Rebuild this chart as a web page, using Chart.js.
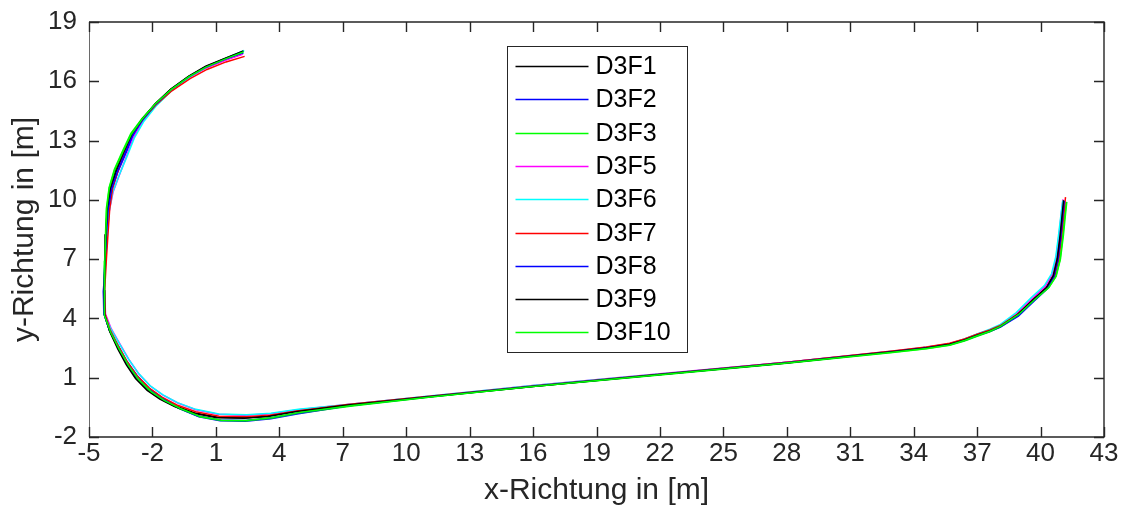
<!DOCTYPE html>
<html>
<head>
<meta charset="utf-8">
<script src="https://cdn.jsdelivr.net/npm/chart.js@4.4.1/dist/chart.umd.min.js"></script>
<style>
  html, body { margin: 0; padding: 0; background: #ffffff; }
  #wrap { width: 1124px; height: 518px; position: relative; }
</style>
</head>
<body>
<div id="wrap"><canvas id="c" width="1124" height="518"></canvas></div>
<script>
// Trajectories (x, y in metres) of the recorded runs
const seriesNames = ['D3F1', 'D3F2', 'D3F3', 'D3F5', 'D3F6', 'D3F7', 'D3F8', 'D3F9', 'D3F10'];
const seriesColors = ['#000000', '#0000ff', '#00ff00', '#ff00ff', '#00ffff', '#ff0000', '#0000ff', '#000000', '#00ff00'];

const d3f1 = [[2.28,17.50],[1.40,17.13],[0.50,16.73],[-0.30,16.24],[-1.15,15.58],[-1.88,14.84],[-2.48,14.08],[-2.98,13.30],[-3.33,12.38],[-3.70,11.46],[-3.97,10.55],[-4.12,9.50],[-4.18,8.20],[-4.23,6.90],[-4.29,5.40],[-4.27,4.20],[-4.02,3.38],[-3.62,2.52],[-3.22,1.72],[-2.78,1.02],[-2.22,0.42],[-1.62,-0.02],[-0.92,-0.42],[0.00,-0.78],[1.10,-1.00],[2.40,-1.03],[3.50,-0.94],[4.80,-0.70],[7.20,-0.38],[11.10,0.05],[16.00,0.57],[22.00,1.17],[28.00,1.76],[33.00,2.32],[34.60,2.52],[35.70,2.70],[36.40,2.92],[37.00,3.17],[37.60,3.38],[38.10,3.62],[38.90,4.20],[39.65,4.95],[40.28,5.56],[40.60,6.15],[40.78,7.00],[40.92,8.20],[41.02,9.30],[41.08,9.98]];
const d3f2 = [[2.30,17.42],[1.42,17.08],[0.52,16.68],[-0.28,16.20],[-1.12,15.55],[-1.85,14.80],[-2.45,14.02],[-2.92,13.20],[-3.28,12.30],[-3.64,11.40],[-3.92,10.50],[-4.08,9.45],[-4.16,8.15],[-4.24,6.85],[-4.32,5.35],[-4.30,4.25],[-4.05,3.45],[-3.62,2.62],[-3.20,1.82],[-2.72,1.10],[-2.15,0.45],[-1.50,-0.05],[-0.75,-0.55],[0.20,-0.98],[1.20,-1.18],[2.40,-1.20],[3.60,-1.08],[4.90,-0.82],[7.30,-0.42],[11.10,0.04],[16.00,0.58],[22.00,1.18],[28.00,1.78],[33.00,2.34],[34.60,2.52],[35.70,2.68],[36.40,2.88],[37.00,3.12],[37.60,3.33],[38.10,3.56],[38.95,4.12],[39.70,4.88],[40.32,5.50],[40.66,6.10],[40.85,6.95],[40.98,8.15],[41.08,9.28],[41.14,9.92]];
const d3f3 = [[2.32,17.52],[1.45,17.15],[0.55,16.74],[-0.26,16.25],[-1.10,15.60],[-1.86,14.86],[-2.50,14.10],[-3.02,13.36],[-3.42,12.45],[-3.80,11.55],[-4.05,10.62],[-4.18,9.55],[-4.22,8.25],[-4.26,6.92],[-4.30,5.45],[-4.26,4.15],[-4.00,3.30],[-3.58,2.40],[-3.15,1.58],[-2.68,0.88],[-2.10,0.28],[-1.45,-0.18],[-0.70,-0.58],[0.25,-0.98],[1.25,-1.17],[2.45,-1.18],[3.60,-1.05],[4.95,-0.78],[7.35,-0.44],[11.15,0.02],[16.00,0.55],[22.00,1.14],[28.00,1.73],[33.00,2.28],[34.60,2.47],[35.70,2.64],[36.40,2.85],[37.00,3.10],[37.60,3.32],[38.10,3.58],[38.95,4.18],[39.72,4.95],[40.38,5.55],[40.72,6.12],[40.92,6.98],[41.05,8.18],[41.15,9.25],[41.22,9.88]];
const d3f5 = [[2.26,17.36],[1.38,17.04],[0.48,16.66],[-0.32,16.18],[-1.16,15.52],[-1.88,14.78],[-2.46,14.00],[-2.90,13.15],[-3.22,12.22],[-3.55,11.30],[-3.86,10.40],[-4.05,9.38],[-4.15,8.10],[-4.22,6.85],[-4.26,5.38],[-4.22,4.22],[-3.95,3.48],[-3.52,2.68],[-3.10,1.90],[-2.65,1.20],[-2.10,0.58],[-1.50,0.12],[-0.80,-0.28],[0.05,-0.62],[1.10,-0.85],[2.40,-0.90],[3.60,-0.82],[4.90,-0.62],[7.20,-0.36],[11.10,0.06],[16.00,0.60],[22.00,1.20],[28.00,1.78],[33.00,2.33],[34.60,2.54],[35.70,2.72],[36.40,2.95],[37.00,3.20],[37.60,3.43],[38.10,3.66],[38.88,4.25],[39.60,5.00],[40.22,5.62],[40.55,6.22],[40.74,7.10],[40.88,8.30],[40.99,9.40],[41.06,10.02]];
const d3f6 = [[2.34,17.56],[1.46,17.16],[0.56,16.74],[-0.24,16.22],[-1.08,15.54],[-1.80,14.78],[-2.40,13.98],[-2.86,13.12],[-3.20,12.20],[-3.56,11.28],[-3.88,10.38],[-4.06,9.36],[-4.14,8.06],[-4.22,6.80],[-4.30,5.30],[-4.28,4.26],[-3.98,3.50],[-3.55,2.70],[-3.12,1.92],[-2.66,1.22],[-2.12,0.60],[-1.52,0.14],[-0.82,-0.26],[0.05,-0.60],[1.15,-0.84],[2.45,-0.88],[3.60,-0.80],[4.90,-0.60],[7.25,-0.35],[11.10,0.07],[16.00,0.60],[22.00,1.19],[28.00,1.77],[33.00,2.33],[34.60,2.54],[35.70,2.72],[36.40,2.96],[37.00,3.22],[37.60,3.46],[38.10,3.70],[38.85,4.30],[39.55,5.05],[40.18,5.66],[40.52,6.26],[40.72,7.12],[40.86,8.30],[40.98,9.38],[41.05,9.96]];
const d3f7 = [[2.36,17.26],[1.48,16.98],[0.58,16.60],[-0.22,16.14],[-1.08,15.52],[-1.84,14.80],[-2.46,14.06],[-2.96,13.30],[-3.30,12.40],[-3.62,11.50],[-3.88,10.60],[-4.02,9.55],[-4.10,8.30],[-4.18,6.95],[-4.26,5.42],[-4.24,4.22],[-4.00,3.42],[-3.60,2.58],[-3.18,1.78],[-2.72,1.08],[-2.15,0.48],[-1.55,0.02],[-0.85,-0.38],[0.05,-0.72],[1.15,-0.95],[2.45,-0.98],[3.55,-0.90],[4.85,-0.68],[7.25,-0.36],[11.10,0.06],[16.00,0.58],[22.00,1.18],[28.00,1.78],[33.00,2.35],[34.60,2.56],[35.70,2.74],[36.40,2.96],[37.00,3.20],[37.60,3.42],[38.10,3.64],[38.92,4.22],[39.68,4.96],[40.32,5.58],[40.66,6.18],[40.86,7.05],[41.00,8.30],[41.12,9.50],[41.18,10.14]];
const d3f8 = [[2.28,17.46],[1.40,17.10],[0.50,16.70],[-0.30,16.21],[-1.14,15.56],[-1.87,14.82],[-2.47,14.04],[-2.95,13.25],[-3.30,12.34],[-3.66,11.44],[-3.94,10.52],[-4.10,9.48],[-4.18,8.18],[-4.25,6.88],[-4.31,5.38],[-4.29,4.22],[-4.04,3.42],[-3.64,2.58],[-3.24,1.78],[-2.78,1.06],[-2.22,0.44],[-1.58,-0.04],[-0.84,-0.50],[0.12,-0.92],[1.15,-1.14],[2.40,-1.16],[3.55,-1.04],[4.85,-0.80],[7.25,-0.42],[11.10,0.04],[16.00,0.57],[22.00,1.16],[28.00,1.76],[33.00,2.32],[34.60,2.51],[35.70,2.68],[36.40,2.90],[37.00,3.14],[37.60,3.35],[38.10,3.58],[38.92,4.15],[39.68,4.90],[40.30,5.52],[40.63,6.12],[40.82,6.98],[40.96,8.18],[41.06,9.30],[41.12,9.94]];
const d3f9 = [[2.30,17.54],[1.42,17.16],[0.52,16.76],[-0.28,16.26],[-1.13,15.60],[-1.86,14.87],[-2.47,14.10],[-2.97,13.34],[-3.36,12.42],[-3.74,11.50],[-4.00,10.60],[-4.14,9.56],[-4.20,8.26],[-4.24,6.94],[-4.28,5.44],[-4.26,4.18],[-4.02,3.34],[-3.64,2.46],[-3.24,1.66],[-2.80,0.96],[-2.25,0.36],[-1.65,-0.08],[-0.95,-0.46],[-0.05,-0.80],[1.05,-1.02],[2.35,-1.05],[3.45,-0.96],[4.75,-0.72],[7.15,-0.39],[11.10,0.04],[16.00,0.56],[22.00,1.16],[28.00,1.75],[33.00,2.31],[34.60,2.51],[35.70,2.69],[36.40,2.91],[37.00,3.15],[37.60,3.37],[38.10,3.60],[38.90,4.18],[39.64,4.94],[40.27,5.55],[40.60,6.16],[40.79,7.02],[40.93,8.22],[41.03,9.34],[41.09,9.98]];
const d3f10 = [[2.30,17.48],[1.43,17.12],[0.53,16.72],[-0.27,16.24],[-1.12,15.58],[-1.87,14.85],[-2.49,14.08],[-3.00,13.32],[-3.40,12.42],[-3.78,11.52],[-4.04,10.60],[-4.16,9.55],[-4.21,8.24],[-4.25,6.92],[-4.29,5.42],[-4.25,4.16],[-3.98,3.30],[-3.56,2.42],[-3.12,1.60],[-2.64,0.90],[-2.06,0.30],[-1.42,-0.16],[-0.68,-0.56],[0.25,-0.96],[1.25,-1.15],[2.45,-1.16],[3.60,-1.03],[4.95,-0.76],[7.35,-0.42],[11.15,0.03],[16.00,0.55],[22.00,1.15],[28.00,1.74],[33.00,2.29],[34.60,2.48],[35.70,2.66],[36.40,2.88],[37.00,3.12],[37.60,3.35],[38.10,3.60],[38.96,4.20],[39.74,4.97],[40.40,5.58],[40.74,6.14],[40.94,7.00],[41.08,8.20],[41.18,9.28],[41.24,9.90]];

const seriesData = [d3f1, d3f2, d3f3, d3f5, d3f6, d3f7, d3f8, d3f9, d3f10];

const xTicks = [-5, -2, 1, 4, 7, 10, 13, 16, 19, 22, 25, 28, 31, 34, 37, 40, 43];
const yTicks = [-2, 1, 4, 7, 10, 13, 16, 19];

const INK = '#262626';
const FONT = "'Liberation Sans', Arial, Helvetica, sans-serif";

// Axes box with ticks pointing inward on all four sides
const boxAxes = {
  id: 'boxAxes',
  afterDatasetsDraw(chart) {
    const { ctx, chartArea: a, scales } = chart;
    const L = a.left, R = a.right, T = a.top, B = a.bottom;
    const len = 10;
    ctx.save();
    ctx.strokeStyle = INK;
    ctx.lineWidth = 1.4;
    ctx.beginPath();
    ctx.moveTo(L, T); ctx.lineTo(R, T); ctx.lineTo(R, B); ctx.lineTo(L, B);
    ctx.stroke();
    ctx.strokeStyle = '#6a6a6a';
    ctx.lineWidth = 1;
    ctx.beginPath();
    ctx.moveTo(L + 0.5, T); ctx.lineTo(L + 0.5, B);
    ctx.stroke();
    ctx.strokeStyle = INK;
    ctx.lineWidth = 1.4;
    ctx.beginPath();
    xTicks.forEach(v => {
      const px = Math.round(scales.x.getPixelForValue(v)) + 0.5;
      ctx.moveTo(px, B); ctx.lineTo(px, B - len);
      ctx.moveTo(px, T); ctx.lineTo(px, T + len);
    });
    yTicks.forEach(v => {
      const py = Math.round(scales.y.getPixelForValue(v)) + 0.5;
      ctx.moveTo(L, py); ctx.lineTo(L + len, py);
      ctx.moveTo(R, py); ctx.lineTo(R - len, py);
    });
    ctx.stroke();
    ctx.restore();
  }
};

// Boxed legend inside the plot area
const boxLegend = {
  id: 'boxLegend',
  afterDraw(chart) {
    const { ctx, chartArea: a } = chart;
    const bx = a.left + 418.5, by = a.top + 24.5, bw = 180, bh = 306;
    const rowStep = 33.3, firstRow = a.top + 44;
    ctx.save();
    ctx.fillStyle = '#ffffff';
    ctx.fillRect(bx, by, bw, bh);
    ctx.strokeStyle = INK;
    ctx.lineWidth = 1;
    ctx.strokeRect(bx, by, bw, bh);
    ctx.font = '25px ' + FONT;
    ctx.textBaseline = 'middle';
    ctx.textAlign = 'left';
    chart.data.datasets.forEach((ds, i) => {
      const cy = Math.round(firstRow + i * rowStep) + 0.5;
      ctx.strokeStyle = ds.borderColor;
      ctx.lineWidth = 1.3;
      ctx.beginPath();
      ctx.moveTo(bx + 8, cy); ctx.lineTo(bx + 81, cy);
      ctx.stroke();
      ctx.fillStyle = '#000000';
      ctx.fillText(ds.label, bx + 88, cy + 1);
    });
    ctx.restore();
  }
};

const datasets = seriesNames.map((name, i) => ({
  label: name,
  data: seriesData[i].map(p => ({ x: p[0], y: p[1] })),
  borderColor: seriesColors[i],
  backgroundColor: seriesColors[i],
  borderWidth: 1.5,
  pointRadius: 0,
  showLine: true,
  fill: false,
  tension: 0,
  order: seriesNames.length - i
}));

new Chart(document.getElementById('c'), {
  type: 'scatter',
  data: { datasets },
  options: {
    responsive: false,
    devicePixelRatio: 1,
    animation: false,
    layout: { padding: { top: 22, right: 20, left: 0, bottom: 0 } },
    plugins: {
      legend: { display: false },
      tooltip: { enabled: false }
    },
    scales: {
      x: {
        type: 'linear',
        position: 'bottom',
        min: -5,
        max: 43,
        afterBuildTicks: s => { s.ticks = xTicks.map(v => ({ value: v })); },
        afterFit: s => { s.height = 81; s.paddingLeft = 0; s.paddingRight = 0; },
        grid: { display: false, drawTicks: false },
        border: { display: false },
        ticks: {
          autoSkip: false,
          maxRotation: 0,
          padding: 1,
          color: INK,
          font: { family: FONT, size: 26 }
        },
        title: {
          display: true,
          text: 'x-Richtung in [m]',
          color: INK,
          font: { family: FONT, size: 30 },
          padding: { top: 0, bottom: 9 }
        }
      },
      y: {
        type: 'linear',
        position: 'left',
        min: -2,
        max: 19,
        afterBuildTicks: s => { s.ticks = yTicks.map(v => ({ value: v })); },
        afterFit: s => { s.width = 89; s.paddingTop = 0; s.paddingBottom = 0; },
        grid: { display: false, drawTicks: false },
        border: { display: false },
        ticks: {
          autoSkip: false,
          padding: 12,
          color: INK,
          font: { family: FONT, size: 26 }
        },
        title: {
          display: true,
          text: 'y-Richtung in [m]',
          color: INK,
          font: { family: FONT, size: 30 },
          padding: { top: 7, bottom: 0 }
        }
      }
    }
  },
  plugins: [boxAxes, boxLegend]
});
</script>
</body>
</html>
